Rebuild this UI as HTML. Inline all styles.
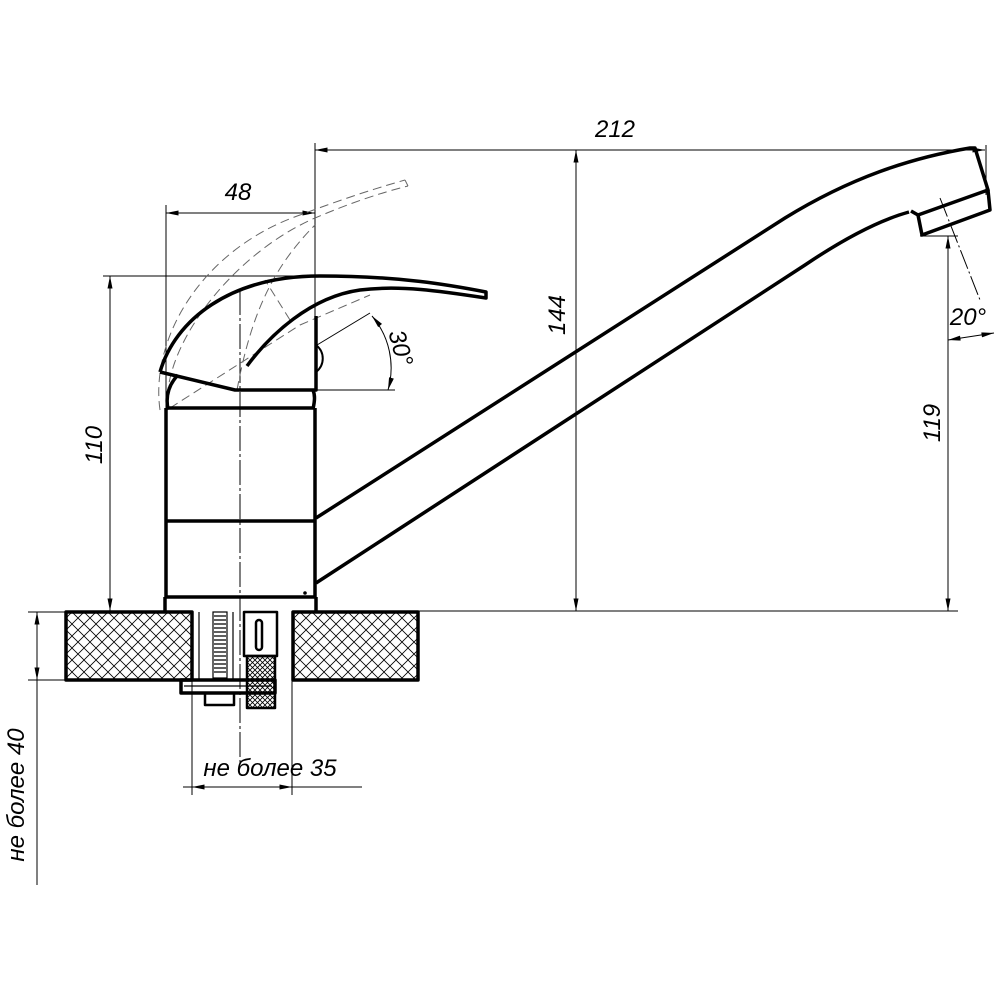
<!DOCTYPE html>
<html><head><style>body{margin:0;background:#fff}svg{display:block}</style></head><body>
<svg width="1000" height="1000" viewBox="0 0 1000 1000" xmlns="http://www.w3.org/2000/svg">
<defs>
<pattern id="h" width="12" height="12" patternUnits="userSpaceOnUse">
<path d="M0 0L12 12M12 0L0 12" stroke="#000" stroke-width="0.8"/>
</pattern>
<pattern id="h2" width="5" height="5" patternUnits="userSpaceOnUse">
<path d="M0 0L5 5M5 0L0 5" stroke="#000" stroke-width="0.8"/>
</pattern>
<marker id="a" viewBox="0 0 10 4" refX="10" refY="2" markerWidth="14" markerHeight="5" orient="auto-start-reverse" markerUnits="userSpaceOnUse"><path d="M0 0L10 2L0 4z"/></marker>
</defs>
<g font-family="Liberation Sans, sans-serif" font-style="italic" font-size="24" fill="#000">
<text x="615" y="137" text-anchor="middle">212</text>
<text x="238" y="200" text-anchor="middle">48</text>
<text transform="translate(565,315) rotate(-90)" text-anchor="middle">144</text>
<text transform="translate(102,445) rotate(-90)" text-anchor="middle">110</text>
<text transform="translate(940,423) rotate(-90)" text-anchor="middle">119</text>
<text transform="translate(393,350) rotate(75)" text-anchor="middle">30°</text>
<text x="968" y="325" text-anchor="middle">20°</text>
<text x="270" y="776" text-anchor="middle">не более 35</text>
<text transform="translate(24,795) rotate(-90)" text-anchor="middle">не более 40</text>
</g>
<g stroke="#000" stroke-width="1" fill="none">
<line x1="315" y1="150" x2="985" y2="150" marker-start="url(#a)" marker-end="url(#a)"/>
<line x1="315" y1="143" x2="315" y2="400"/>
<line x1="986" y1="145" x2="986" y2="195"/>
<line x1="576" y1="150" x2="576" y2="611" marker-start="url(#a)" marker-end="url(#a)"/>
<line x1="540" y1="150" x2="940" y2="150"/>
<line x1="300" y1="611" x2="958" y2="611"/>
<line x1="948" y1="236" x2="948" y2="611" marker-start="url(#a)" marker-end="url(#a)"/>
<line x1="920" y1="236" x2="958" y2="236"/>
<line x1="110" y1="276" x2="110" y2="611" marker-start="url(#a)" marker-end="url(#a)"/>
<line x1="103" y1="276" x2="318" y2="276"/>
<line x1="166" y1="213" x2="315" y2="213" marker-start="url(#a)" marker-end="url(#a)"/>
<line x1="166" y1="205" x2="166" y2="410"/>
<line x1="316" y1="390" x2="395" y2="390"/>
<line x1="317" y1="345" x2="370" y2="313"/>
<path d="M372 316 A80 80 0 0 1 388 390" marker-start="url(#a)" marker-end="url(#a)"/>
<line x1="940" y1="198" x2="980" y2="300" stroke-dasharray="20 3 2 3"/>
<line x1="948" y1="340" x2="994" y2="333" marker-start="url(#a)" marker-end="url(#a)"/>
<line x1="192" y1="680" x2="192" y2="795"/>
<line x1="292" y1="680" x2="292" y2="795"/>
<line x1="183" y1="787" x2="362" y2="787"/>
<line x1="192" y1="787" x2="292" y2="787" marker-start="url(#a)" marker-end="url(#a)"/>
<line x1="37" y1="612" x2="37" y2="680" marker-start="url(#a)" marker-end="url(#a)"/>
<line x1="37" y1="680" x2="37" y2="885"/>
<line x1="28" y1="612" x2="66" y2="612"/>
<line x1="28" y1="680" x2="66" y2="680"/>
<line x1="240" y1="290" x2="240" y2="765" stroke-dasharray="25 3 3 3"/>
</g>
<g stroke="#666" stroke-width="1" fill="none" stroke-dasharray="9 5">
<path d="M160 410 C150 340 200 250 300 215 C340 200 370 190 405 180"/>
<path d="M168 410 C160 350 230 255 315 218 C350 203 380 193 408 186"/>
<path d="M405 180 L408 186"/>
<path d="M237 390 C250 320 270 270 315 225"/>
<path d="M290 320 L265 280"/>
<path d="M170 408 L300 325 L370 295"/>
</g>
<g stroke="#000" stroke-width="3.5" fill="none" stroke-linejoin="round">
<path d="M160 372 C175 320 230 276 320 276 C400 276 450 285 486 292 L486 298 C440 291 400 285 360 290 C310 297 270 335 247 366"/>
<path d="M160 372 L235 390 L316 390 L316 316"/>
<path d="M168 409 C165 395 170 383 178 375"/>
<path d="M313 409 C315 400 315 395 313 390"/>
<line x1="166" y1="408" x2="315" y2="408"/>
<path d="M166 408 L166 597 L315 597 L315 408"/>
<line x1="166" y1="521" x2="315" y2="521"/>
<path d="M165 597 L165 611 M316 597 L316 611"/>
<path d="M316 518 L785 218 C850 178 910 158 970 148 L975 148 L988 190 L918 215 L911 211"/>
<path d="M316 583 L805 265 C845 238 880 220 909 212"/>
<path d="M918 215 L922 235 L990 210 L988 190"/>
<rect x="66" y="612" width="126" height="68" fill="url(#h)"/>
<rect x="293" y="612" width="125" height="68" fill="url(#h)"/>
<rect x="181" y="680" width="94" height="13"/>
<rect x="205" y="693" width="29" height="12" stroke-width="2.5"/>
<rect x="247" y="656" width="28" height="52" fill="url(#h2)" stroke-width="2.5"/>
<rect x="244" y="612" width="33" height="44" stroke-width="2.5"/>
<rect x="256" y="620" width="6" height="30" rx="3" stroke-width="2.5"/>
</g>
<g stroke="#000" stroke-width="1.2" fill="none">
<rect x="213" y="612" width="14" height="66"/>
<path d="M214 616H226M214 620H226M214 624H226M214 628H226M214 632H226M214 636H226M214 640H226M214 644H226M214 648H226M214 652H226M214 656H226M214 660H226M214 664H226M214 668H226M214 672H226"/>
<line x1="184" y1="686" x2="272" y2="686"/>
<line x1="199" y1="612" x2="199" y2="680"/>
<line x1="233" y1="612" x2="233" y2="680"/>
</g>
<circle cx="305" cy="593" r="1.8"/>
<path d="M316 345 C325 352 325 365 316 372" stroke="#000" stroke-width="2" fill="none"/>
</svg>
</body></html>
